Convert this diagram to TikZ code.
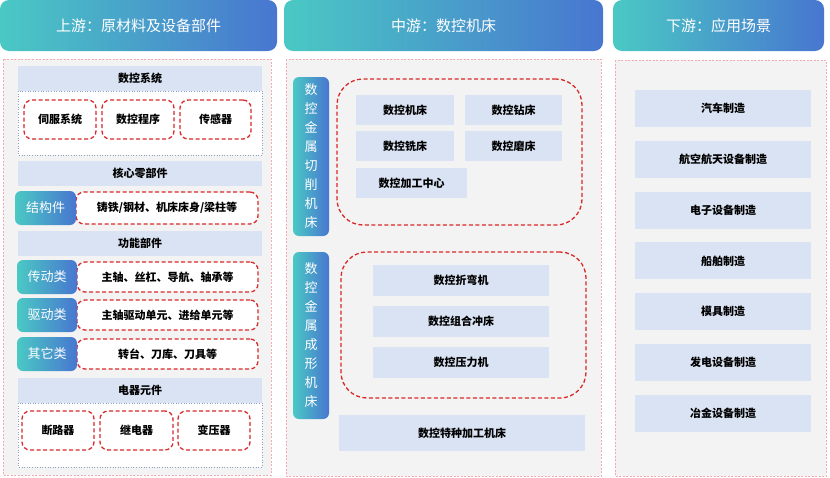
\documentclass[tikz,border=0pt]{standalone}
\usepackage{fontspec}
\newfontfamily\cjk{Noto Sans CJK SC}
\usetikzlibrary{positioning}
\definecolor{tealc}{RGB}{74,201,196}
\definecolor{bluec}{RGB}{72,118,208}
\definecolor{barc}{RGB}{218,227,243}
\definecolor{panelc}{RGB}{243,243,243}
\definecolor{pinkc}{RGB}{244,170,178}
\definecolor{redc}{RGB}{218,40,40}
\definecolor{dotc}{RGB}{140,160,200}
\tikzset{
head/.style={rounded corners=9pt, left color=tealc, right color=bluec, text=white, font=\cjk\fontsize{15}{18}\selectfont, minimum height=51, inner sep=0pt},
panel/.style={draw=pinkc, fill=panelc, dash pattern=on 2pt off 1.5pt, line width=0.6pt},
bar/.style={fill=barc, font=\cjk\bfseries\fontsize{11}{13}\selectfont, minimum width=244, minimum height=25, inner sep=0pt},
item/.style={fill=barc, font=\cjk\bfseries\fontsize{11}{13}\selectfont, minimum height=30, inner sep=0pt},
redbox/.style={draw=redc, dash pattern=on 4pt off 2.5pt, line width=1.3pt, rounded corners=8pt, fill=white, font=\cjk\bfseries\fontsize{11}{13}\selectfont, inner sep=0pt},
bigred/.style={draw=redc, dash pattern=on 4pt off 2.5pt, line width=1.3pt, rounded corners=26pt},
tag/.style={rounded corners=6pt, left color=tealc, right color=bluec, text=white, font=\cjk\fontsize{13}{15}\selectfont, inner sep=0pt},
vtag/.style={tag, minimum width=36, align=center, font=\cjk\fontsize{13}{19}\selectfont},
sub/.style={draw=dotc, fill=white, dotted, line width=0.6pt}
}
\begin{document}
\begin{tikzpicture}[x=1pt, y=-1pt]
\useasboundingbox (0,0) rectangle (830,477);
%Headers
\node[head, minimum width=277] (h1) at (138.5,25.5) {上游：原材料及设备部件};
\node[head, minimum width=319] (h2) at (443.5,25.5) {中游：数控机床};
\node[head, minimum width=211] (h3) at (718.5,25.5) {下游：应用场景};
%Panels
\draw[panel] (3,59) rectangle (271,475);
\draw[panel] (286,59) rectangle (601,476);
\draw[panel] (615,60) rectangle (826,476);
%Upstream
\draw[sub] (18,91) rectangle (262,155);
\node[bar] (nc) at (140,78.5) {数控系统};
\node[redbox, minimum width=72, minimum height=39] (nc1) at (60,119.5) {伺服系统};
\node[redbox, minimum width=72, minimum height=39] (nc2) at (138,119.5) {数控程序};
\node[redbox, minimum width=71, minimum height=39] (nc3) at (215.5,119.5) {传感器};
\node[bar] (hx) at (140,173.5) {核心零部件};
\node[redbox, minimum width=182, minimum height=32] (jg) at (167,208) {铸铁/钢材、机床床身/梁柱等};
\node[tag, minimum width=61, minimum height=34] (jgt) at (45.5,208) {结构件};
\node[bar] (gn) at (140,243) {功能部件};
\node[redbox, minimum width=181, minimum height=30] (cd) at (167.5,277) {主轴、丝杠、导航、轴承等};
\node[tag, minimum width=60, minimum height=34] (cdt) at (47,277) {传动类};
\node[redbox, minimum width=181, minimum height=30] (qd) at (167.5,315) {主轴驱动单元、进给单元等};
\node[tag, minimum width=60, minimum height=34] (qdt) at (47,315) {驱动类};
\node[redbox, minimum width=181, minimum height=30] (qt) at (167.5,354) {转台、刀库、刀具等};
\node[tag, minimum width=60, minimum height=34] (qtt) at (47,354) {其它类};
\draw[sub] (18,403) rectangle (262,467);
\node[bar] (dq) at (140,390.5) {电器元件};
\node[redbox, minimum width=72, minimum height=39] (dq1) at (58,430.5) {断路器};
\node[redbox, minimum width=73, minimum height=39] (dq2) at (136.5,430.5) {继电器};
\node[redbox, minimum width=72, minimum height=39] (dq3) at (214,430.5) {变压器};
%Midstream
\node[vtag, minimum height=159] (qx) at (311,156.5) {数\\控\\金\\属\\切\\削\\机\\床};
\node[bigred, minimum width=245, minimum height=146] (qxr) at (459.5,152) {};
\node[item, minimum width=98] (jc) at (405,110) {数控机床};
\node[item, minimum width=97] (zc) at (513.5,110) {数控钻床};
\node[item, minimum width=98] (xc) at (405,146) {数控铣床};
\node[item, minimum width=97] (mc) at (513.5,146) {数控磨床};
\node[item, minimum width=111] (zx) at (411.5,183) {数控加工中心};
\node[vtag, minimum height=167] (cx) at (311,335.5) {数\\控\\金\\属\\成\\形\\机\\床};
\node[bigred, minimum width=245, minimum height=146] (cxr) at (463.5,325) {};
\node[item, minimum width=176, minimum height=31] (zw) at (461,280.5) {数控折弯机};
\node[item, minimum width=176, minimum height=31] (cc) at (461,321.5) {数控组合冲床};
\node[item, minimum width=176, minimum height=31] (yl) at (461,362.5) {数控压力机};
\node[item, minimum width=246, minimum height=36] (tz) at (462,433) {数控特种加工机床};
%Downstream
\foreach \t [count=\i from 0] in {汽车制造, 航空航天设备制造, 电子设备制造, 船舶制造, 模具制造, 发电设备制造, 冶金设备制造}
  \node[item, minimum width=176, minimum height=37] (app\i) at (723,108.5+50.8*\i) {\t};
\end{tikzpicture}
\end{document}
